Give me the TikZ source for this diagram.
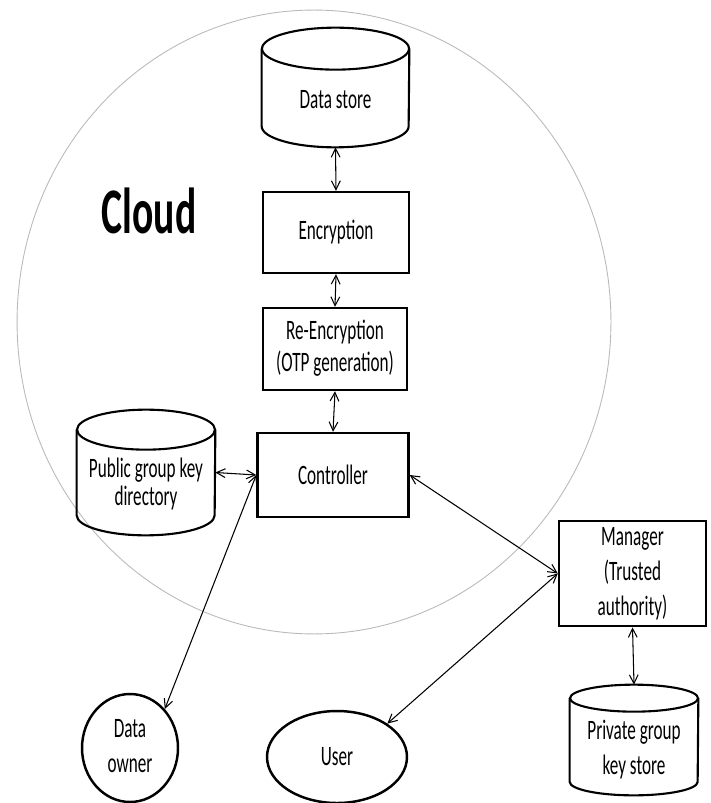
\documentclass[tikz,border=0pt]{standalone}
\usepackage{fontspec}
\setmainfont{Carlito}[FakeStretch=0.61]
\usetikzlibrary{shapes.geometric,arrows.meta}

% text block for the cylinders, pushed down below the top cap
\newcommand{\cyltext}[2][12pt]{\raisebox{-#1}[0pt][0pt]{\makebox[0pt]{\begin{tabular}{@{}c@{}}#2\end{tabular}}}}
\newcommand{\lines}[1]{\begin{tabular}{@{}c@{}}#1\end{tabular}}

\begin{document}
\begin{tikzpicture}[x=0.02cm, y=-0.02cm,
    every node/.style={font=\fontsize{16pt}{20pt}\selectfont},
    box/.style={draw, line width=1.4pt, inner sep=0pt},
    % width, height, cap radius
    store/.style n args={3}{inner sep=0pt, minimum width=#1, minimum height=#2,
        append after command={\pgfextra{
            \draw[line width=1.2pt] ([yshift=-#3]\tikzlastnode.north west)
                -- ([yshift=#3]\tikzlastnode.south west)
                arc[start angle=180, end angle=360, x radius=#1/2, y radius=#3]
                -- ([yshift=-#3]\tikzlastnode.north east);
            \draw[line width=1.2pt] ([yshift=-#3]\tikzlastnode.north) ellipse [x radius=#1/2, y radius=#3];
        }}},
    actor/.style={draw, ellipse, line width=1.4pt, inner sep=0pt},
    link/.style={>={Straight Barb[length=5pt,width=5pt]}, <->, line width=0.6pt}]
    \useasboundingbox (0,0) rectangle (710,803);

    % Define the positions of the parts
    \coordinate (cloudPos) at (314, 322);
    \coordinate (cloudLabelPos) at (149, 211);
    \coordinate (dataStorePos) at (335.5, 87.5);
    \coordinate (encryptPos) at (336, 232.5);
    \coordinate (reEncryptPos) at (335, 349);
    \coordinate (controlPos) at (333, 475);
    \coordinate (publicKeyPos) at (146, 472.5);
    \coordinate (managerPos) at (632.5, 573.5);
    \coordinate (privateKeyPos) at (634, 740);
    \coordinate (ownerPos) at (130, 748);
    \coordinate (userPos) at (337, 757);

    % Draw the cloud
    \node[draw=gray!55, line width=0.5pt, ellipse, minimum width=11.88cm, minimum height=12.48cm] (cloud) at (cloudPos) {};
    \node[font=\fontsize{37pt}{40pt}\selectfont\bfseries] (cloudLabel) at (cloudLabelPos) {Cloud};

    % Draw the parts
    \node[store={2.94cm}{2.38cm}{0.42cm}] (dataStore) at (dataStorePos) {\cyltext{Data store}};
    \node[box, minimum width=2.92cm, minimum height=1.62cm] (encrypt) at (encryptPos) {Encryption};
    \node[box, minimum width=2.88cm, minimum height=1.64cm, font=\fontsize{16pt}{18pt}\selectfont] (reEncrypt) at (reEncryptPos) {\lines{Re-Encryption\\(OTP generation)}};
    \node[box, minimum width=3.02cm, minimum height=1.68cm] (control) at (controlPos) {Controller};
    \node[store={2.76cm}{2.5cm}{0.4cm}, font=\fontsize{16pt}{15.5pt}\selectfont] (publicKey) at (publicKeyPos) {\cyltext{Public group key\\directory}};
    \node[box, minimum width=2.94cm, minimum height=2.02cm] (manager) at (managerPos) {\lines{Manager\\(Trusted\\authority)}};
    \node[store={2.56cm}{2.2cm}{0.27cm}] (privateKey) at (privateKeyPos) {\cyltext[10pt]{Private group\\key store}};
    \node[actor, minimum width=1.92cm, minimum height=2.16cm] (owner) at (ownerPos) {\lines{Data\\owner}};
    \node[actor, minimum width=2.8cm, minimum height=1.84cm] (user) at (userPos) {User};

    % Draw the links
    \draw[link] (dataStore.south) -- (encrypt.north);
    \draw[link] (encrypt.south) -- (reEncrypt.north);
    \draw[link] (reEncrypt.south) -- (control.north);
    \draw[link] (publicKey.east) -- (control.west);
    \draw[link] (control.west) -- (owner.north east);
    \draw[link] (control.east) -- (manager.west);
    \draw[link] (manager.west) -- (user.north east);
    \draw[link] (manager.south) -- (privateKey.north);

\end{tikzpicture}
\end{document}
